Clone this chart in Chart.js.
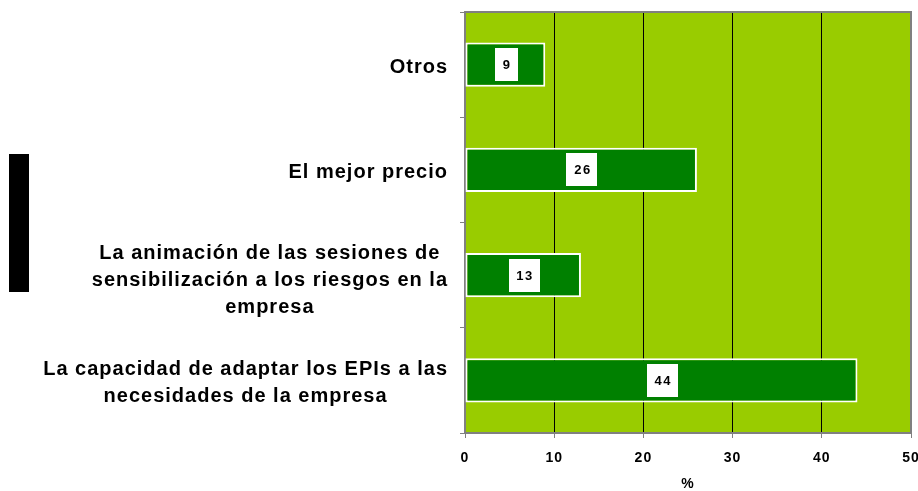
<!DOCTYPE html>
<html><head><meta charset="utf-8">
<script src="https://cdn.jsdelivr.net/npm/chart.js@4/dist/chart.umd.min.js"></script>
<style>
html,body{margin:0;padding:0;background:#fff;}
#wrap{position:relative;width:918px;height:491px;}
#blk{position:absolute;left:9px;top:154px;width:20px;height:138px;background:#000;}
canvas{position:absolute;left:0;top:0;}
</style></head>
<body><div id="wrap"><canvas id="c" width="918" height="491"></canvas><div id="blk"></div></div>
<script>
const categories = [
  ['Otros'],
  ['El mejor precio'],
  ['La animación de las sesiones de','sensibilización a los riesgos en la','empresa'],
  ['La capacidad de adaptar los EPIs a las','necesidades de la empresa']
];
const values = [9, 26, 13, 44];
const xTicks = [0, 10, 20, 30, 40, 50];
const xTitle = '%';

const FONT = '"Liberation Sans", Arial, sans-serif';

const plotBg = {
  id: 'plotBg',
  beforeDraw(chart) {
    const {ctx, chartArea: a} = chart;
    ctx.save();
    ctx.fillStyle = '#99CC00';
    ctx.fillRect(a.left, a.top, a.right - a.left, a.bottom - a.top);
    ctx.restore();
    ctx.letterSpacing = '1px';
  },
  afterDatasetsDraw(chart) {
    const {ctx, chartArea: a} = chart;
    ctx.letterSpacing = '0px';
    ctx.save();
    ctx.strokeStyle = '#808080';
    ctx.lineWidth = 2;
    ctx.beginPath();
    ctx.moveTo(a.left, a.top); ctx.lineTo(a.right, a.top); ctx.lineTo(a.right, a.bottom);
    ctx.stroke();
    const meta = chart.getDatasetMeta(0);
    ctx.font = 'bold 13px ' + FONT;
    ctx.letterSpacing = '1.5px';
    ctx.textAlign = 'center';
    ctx.textBaseline = 'middle';
    meta.data.forEach((bar, i) => {
      const txt = String(values[i]);
      const w = ctx.measureText(txt).width;
      const cx = (bar.base + bar.x) / 2;
      const cy = bar.y;
      const bw = w + 14, bh = 33;
      ctx.fillStyle = '#fff';
      ctx.fillRect(Math.round(cx - bw / 2 + 1), Math.round(cy - bh / 2), Math.round(bw), bh);
      ctx.fillStyle = '#000';
      ctx.fillText(txt, cx + 1.75, cy + 1);
    });
    const ys = chart.scales.y;
    ctx.font = 'bold 20px ' + FONT;
    ctx.letterSpacing = '1px';
    ctx.fillStyle = '#000';
    const rightEdge = 448;
    const lh = 27;
    categories.forEach((lines, i) => {
      const y0 = ys.getPixelForTick(i);
      let widest = 0;
      lines.forEach(l => { widest = Math.max(widest, ctx.measureText(l).width); });
      const cx = rightEdge - widest / 2;
      const startY = y0 - (lines.length - 1) * lh / 2;
      const shift = lines.length === 3 ? 5 : 3;
      lines.forEach((l, k) => ctx.fillText(l, cx, startY + k * lh + shift));
    });
    ctx.restore();
  }
};

new Chart(document.getElementById('c'), {
  type: 'bar',
  data: {
    labels: categories,
    datasets: [{
      data: values,
      backgroundColor: '#008000',
      borderColor: '#ffffff',
      borderWidth: 2,
      borderSkipped: false,
      categoryPercentage: 1,
      barPercentage: 0.42
    }]
  },
  options: {
    indexAxis: 'y',
    responsive: false,
    animation: false,
    events: [],
    layout: { padding: { top: 12, right: 7, left: 0, bottom: 0 } },
    plugins: { legend: { display: false }, tooltip: { enabled: false } },
    scales: {
      x: {
        type: 'linear',
        min: 0, max: 50,
        afterBuildTicks(scale) { scale.ticks = xTicks.map(v => ({ value: v })); },
        afterFit(scale) { scale.height = 58; scale.paddingRight = 0; scale.paddingLeft = 0; },
        ticks: {
          color: '#000',
          font: { family: FONT, size: 14, weight: 'bold' },
          padding: 12,
          maxRotation: 0
        },
        grid: {
          color: (c) => (c.index === 0 || c.index === xTicks.length - 1) ? '#808080' : '#000000',
          lineWidth: 1,
          tickLength: 5,
          tickColor: '#808080'
        },
        border: { color: '#808080', width: 2 },
        title: {
          display: true,
          text: xTitle,
          color: '#000',
          font: { family: FONT, size: 14, weight: 'bold', lineHeight: 1 },
          padding: { top: 0, bottom: 0 }
        }
      },
      y: {
        afterFit(scale) { scale.width = 465; },
        ticks: { display: false },
        grid: {
          drawOnChartArea: false,
          drawTicks: true,
          tickLength: 5,
          tickColor: '#808080',
          offset: true
        },
        border: { color: '#808080', width: 2 }
      }
    }
  },
  plugins: [plotBg]
});
</script></body></html>
